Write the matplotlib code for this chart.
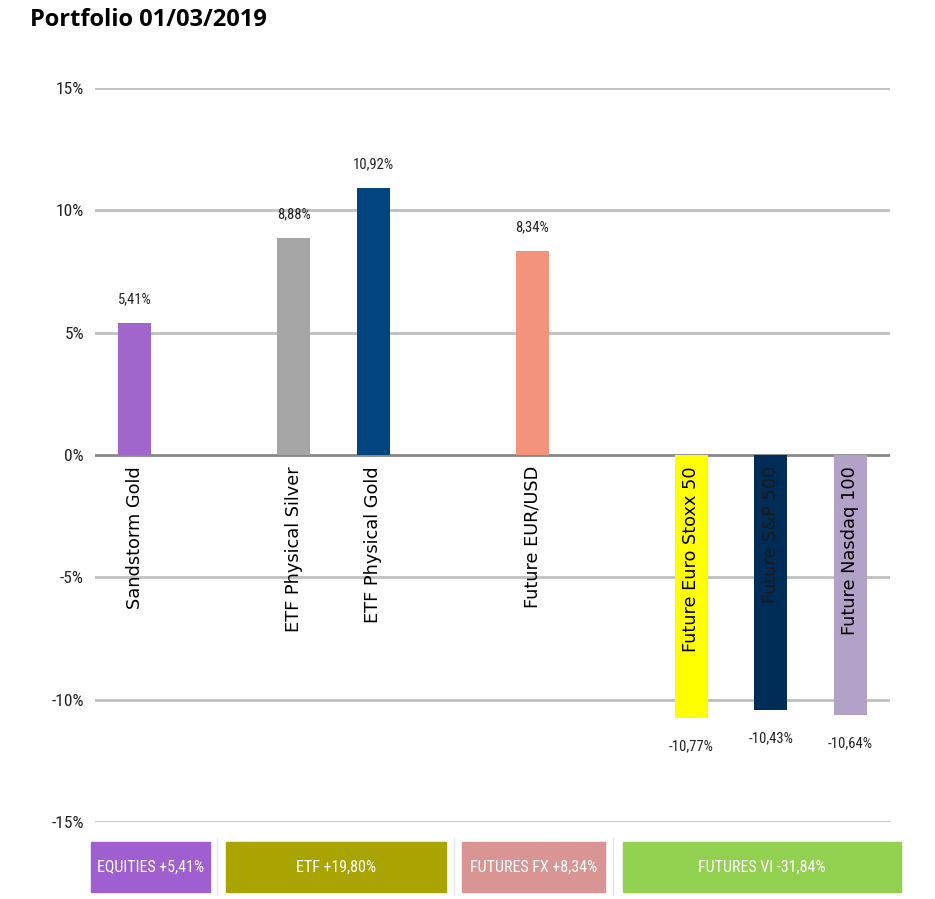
import matplotlib
matplotlib.use('Agg')
import matplotlib.pyplot as plt
from matplotlib.patches import Rectangle
from matplotlib.lines import Line2D

# data
names = ['Sandstorm Gold', 'ETF Physical Silver', 'ETF Physical Gold', 'Future EUR/USD',
         'Future Euro Stoxx 50', 'Future S&P 500', 'Future Nasdaq 100']
slots = [0, 2, 3, 5, 7, 8, 9]
values = [5.41, 8.88, 10.92, 8.34, -10.77, -10.43, -10.64]
bar_colors = ['#A066CC', '#A5A5A5', '#00457F', '#F4937C', '#FFFF00', '#002D57', '#B3A2C7']

groups = ['EQUITIES', 'ETF', 'FUTURES FX', 'FUTURES VI']
group_totals = ['+5,41%', '+19,80%', '+8,34%', '-31,84%']
group_colors = ['#A05FD0', '#A9A400', '#D99594', '#92D050']

yticks = [-15, -10, -5, 0, 5, 10, 15]

narrow = ['Roboto Condensed', 'Liberation Sans Narrow', 'Liberation Sans', 'DejaVu Sans']

fig = plt.figure(figsize=(9.35, 8.99), dpi=100)
ax = fig.add_axes([0.1016, 0.0857, 0.8503, 0.8165])

ax.bar(slots, values, width=0.42, color=bar_colors, zorder=3)
ax.set_xlim(-0.5, 9.5)
ax.set_ylim(-15, 15)
ax.set_yticks(yticks)
ax.set_yticklabels([str(t) + '%' for t in yticks], family=narrow, fontsize=12.5, color='#222222')
ax.set_xticks([])
ax.tick_params(axis='y', length=0, pad=8)
for s in ax.spines.values():
    s.set_visible(False)
for t in yticks:
    ax.axhline(t, color='#888888' if t == 0 else '#C0C0C0', lw=2, zorder=2)

for x, v, n in zip(slots, values, names):
    lab = ('%.2f' % v).replace('.', ',') + '%'
    off = 12 if v > 0 else -15
    ax.annotate(lab, (x, v), xytext=(0, off), textcoords='offset points',
                ha='center', va='bottom' if v > 0 else 'top',
                family=narrow, fontsize=10.5, color='#222222', zorder=4)
    ax.text(x, -0.45, n, rotation=90, ha='center', va='top', fontsize=12.8,
            color='black' if n != 'Future S&P 500' else '#1a1a1a', zorder=4)

fig.text(30 / 935, 1 - 20 / 899, 'Portfolio 01/03/2019', fontsize=17, fontweight='bold',
         family='Open Sans', va='center', ha='left')

# group boxes along the bottom
W, H = 935.0, 899.0
boxes = [(91, 210), (226, 446), (462, 605), (623, 901)]
for (x0, x1), g, tot, c in zip(boxes, groups, group_totals, group_colors):
    fig.patches.append(Rectangle((x0 / W, 1 - 892 / H), (x1 - x0) / W, 50 / H,
                                 transform=fig.transFigure, color=c))
    fig.text((x0 + x1) / 2 / W, 1 - 867 / H, g + ' ' + tot, color='white',
             family=narrow, fontsize=11.5, ha='center', va='center')
for sx in [217, 454, 613]:
    fig.lines.append(Line2D([sx / W, sx / W], [1 - 895 / H, 1 - 838 / H],
                            transform=fig.transFigure, color='#E6E6E6', lw=1))

fig.savefig('out.png', dpi=100)
